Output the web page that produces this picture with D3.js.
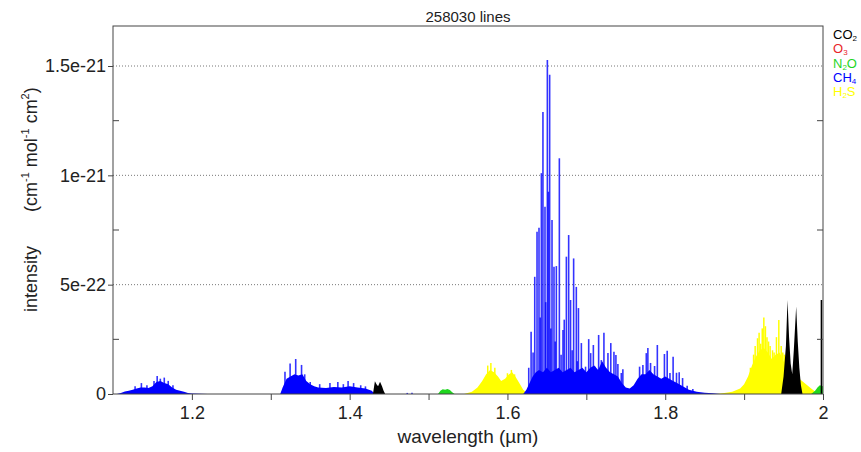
<!DOCTYPE html>
<html>
<head>
<meta charset="utf-8">
<script src="https://cdn.jsdelivr.net/npm/d3@7"></script>
<style>
  body { margin: 0; background: #fff; }
  text { font-family: "Liberation Sans", Arial, sans-serif; }
</style>
</head>
<body>
<div id="chart"></div>
<script>
// intensities are in units of 1e-22 cm^-1 mol^-1 cm^2, wavelengths in µm
const xTicks = [1.2, 1.4, 1.6, 1.8, 2.0];
const xTickLabels = ["1.2", "1.4", "1.6", "1.8", "2"];
const xMinorTicks = [1.3, 1.5, 1.7, 1.9];
const yTicks = [0, 5, 10, 15];
const yTickLabels = ["0", "5e-22", "1e-21", "1.5e-21"];
const yMinorTicks = [2.5, 7.5, 12.5];

const species = ["CO2", "O3", "N2O", "CH4", "H2S"];
const speciesColor = ["#000000", "#e8242a", "#1fd61f", "#0000ff", "#ffff00"];
const legendMain = ["CO", "O", "N", "CH", "H"];
const legendSub = ["2", "3", "2", "4", "2"];
const legendTail = ["", "", "O", "", "S"];

// dense line bands (envelopes) per species
const h2sBand = [[1.545,0],[1.555,0.1],[1.562,0.3],[1.568,0.6],[1.573,0.9],[1.578,1.1],[1.583,1.0],[1.588,0.8],
  [1.592,0.6],[1.597,0.7],[1.602,0.9],[1.606,1.0],[1.61,0.8],[1.615,0.5],[1.62,0.2],[1.626,0],
  [1.865,0],[1.875,0.05],[1.885,0.1],[1.895,0.25],[1.90,0.45],[1.905,0.8],[1.91,1.3],[1.915,1.7],[1.92,2.0],
  [1.925,2.1],[1.93,1.9],[1.935,1.6],[1.94,1.8],[1.945,1.9],[1.95,1.5],[1.955,1.1],[1.96,0.9],[1.965,0.8],
  [1.97,0.7],[1.975,0.55],[1.98,0.4],[1.985,0.25],[1.99,0.12],[1.995,0]];
const ch4Band = [[1.105,0],[1.11,0.05],[1.115,0.12],[1.12,0.15],[1.125,0.2],[1.13,0.25],[1.135,0.3],[1.14,0.3],
  [1.145,0.28],[1.15,0.35],[1.155,0.55],[1.16,0.6],[1.165,0.5],[1.17,0.45],[1.175,0.3],[1.18,0.2],[1.185,0.15],
  [1.19,0.1],[1.195,0.05],[1.20,0.02],[1.22,0],
  [1.312,0],[1.315,0.3],[1.32,0.7],[1.325,0.8],[1.33,0.9],[1.335,0.85],[1.34,0.9],[1.345,0.6],[1.35,0.45],
  [1.355,0.35],[1.36,0.3],[1.37,0.28],[1.38,0.32],[1.39,0.3],[1.40,0.35],[1.41,0.3],[1.42,0.25],[1.428,0.15],[1.432,0],
  [1.62,0],[1.624,0.2],[1.628,0.5],[1.632,0.8],[1.636,1.0],[1.64,1.1],[1.645,1.0],[1.65,1.2],[1.655,1.0],
  [1.66,1.1],[1.665,1.2],[1.67,1.0],[1.675,1.1],[1.68,1.2],[1.685,1.0],[1.69,1.1],[1.695,1.2],[1.70,1.0],
  [1.705,1.2],[1.71,1.3],[1.715,1.1],[1.72,1.5],[1.725,1.2],[1.73,1.0],[1.735,0.9],[1.74,0.8],[1.745,0.5],
  [1.75,0.3],[1.755,0.25],[1.76,0.4],[1.765,0.7],[1.77,0.9],[1.775,0.9],[1.78,1.1],[1.785,0.9],[1.79,0.8],
  [1.795,0.7],[1.80,0.8],[1.805,0.7],[1.81,0.6],[1.815,0.5],[1.82,0.4],[1.825,0.3],[1.83,0.2],[1.835,0.15],
  [1.84,0.1],[1.85,0.06],[1.86,0.04],[1.87,0]];
const n2oBand = [[1.512,0],[1.515,0.15],[1.518,0.22],[1.521,0.2],[1.524,0.23],[1.527,0.18],[1.530,0.08],[1.533,0],
  [1.985,0],[1.99,0.15],[1.993,0.3],[1.996,0.4],[2.0,0.35]];
const co2Band = [[1.4295,0],[1.431,0.35],[1.432,0.58],[1.434,0.45],[1.436,0.35],[1.4385,0.56],[1.441,0.35],
  [1.443,0.15],[1.445,0],
  [1.947,0],[1.950,0.8],[1.953,2.2],[1.955,4.3],[1.957,2.6],[1.959,1.4],[1.961,0.9],[1.963,2.0],[1.966,4.0],
  [1.968,2.4],[1.970,1.2],[1.972,0.4],[1.974,0]];

// strong single lines per species
const h2sLines = [[1.575,1.3],[1.579,1.42],[1.584,1.2],[1.600,0.95],[1.605,1.1],[1.609,0.9],
  [1.908,1.2],[1.912,1.8],[1.914,2.2],[1.917,2.55],[1.919,2.8],[1.921,2.3],[1.923,3.0],[1.925,3.5],
  [1.927,3.1],[1.929,2.6],[1.931,2.4],[1.933,2.2],[1.936,2.0],[1.938,1.9],[1.941,2.6],[1.944,3.38],
  [1.947,2.2],[1.949,1.9],[1.951,1.8],[1.953,1.5]];
const ch4Lines = [[1.128,0.35],[1.136,0.5],[1.143,0.4],[1.152,0.6],[1.156,0.82],[1.160,0.7],[1.165,0.75],
  [1.170,0.6],[1.176,0.4],
  [1.318,1.02],[1.3245,1.4],[1.3316,1.6],[1.339,1.33],[1.343,0.9],[1.35,0.55],[1.362,0.45],[1.375,0.5],
  [1.385,0.55],[1.392,0.45],[1.398,0.6],[1.405,0.5],[1.414,0.4],[1.42,0.35],[1.473,0.05],[1.479,0.06],
  [1.627,1.2],[1.630,2.85],[1.6325,1.9],[1.6346,5.36],[1.6375,7.42],[1.640,7.6],[1.6415,3.5],[1.643,10.1],
  [1.645,12.9],[1.6476,8.56],[1.6485,4.2],[1.6506,15.27],[1.6519,9.25],[1.6535,14.6],[1.655,3.0],
  [1.6565,7.96],[1.659,5.82],[1.6605,2.4],[1.662,5.85],[1.6658,10.78],[1.668,1.8],[1.6704,2.93],
  [1.672,3.4],[1.6747,6.28],[1.6776,7.27],[1.680,4.3],[1.682,2.0],[1.6839,6.2],[1.6873,4.9],[1.6885,1.5],
  [1.690,3.93],[1.6937,2.33],[1.699,1.25],[1.703,2.51],[1.7055,1.87],[1.7089,2.24],[1.711,1.25],
  [1.7156,2.7],[1.719,1.55],[1.7223,2.8],[1.7274,1.87],[1.731,2.33],[1.735,1.93],[1.7375,1.78],
  [1.740,1.37],[1.7443,0.96],[1.7463,1.13],[1.7675,1.25],[1.7717,1.33],[1.776,1.87],[1.778,2.1],
  [1.7814,1.42],[1.7865,1.28],[1.790,2.24],[1.794,0.64],[1.799,1.83],[1.8025,1.98],[1.806,0.96],
  [1.810,1.7],[1.8143,0.97],[1.8177,1.0],[1.822,0.73],[1.8278,0.38],[1.835,0.23]];
const co2Lines = [[1.998,4.3]];

const W = 861, H = 452;
const margin = { top: 26, right: 38, bottom: 58, left: 113 };

const svg = d3.select("#chart").append("svg")
  .attr("width", W).attr("height", H);

const x = d3.scaleLinear().domain([1.1, 2.0]).range([margin.left, W - margin.right]);
const y = d3.scaleLinear().domain([0, 16.83]).range([H - margin.bottom, margin.top]);

svg.append("clipPath").attr("id", "plotClip")
  .append("rect")
  .attr("x", x(1.1)).attr("y", y(16.83))
  .attr("width", x(2.0) - x(1.1) + 1).attr("height", y(0) - y(16.83));

// dotted grid lines
svg.append("g")
  .selectAll("line")
  .data(yTicks.filter(d => d > 0))
  .join("line")
  .attr("x1", x(1.1)).attr("x2", x(2.0))
  .attr("y1", d => y(d)).attr("y2", d => y(d))
  .attr("stroke", "#777")
  .attr("stroke-width", 1)
  .attr("stroke-dasharray", "1,2");

const plot = svg.append("g").attr("clip-path", "url(#plotClip)");
const area = d3.area().x(d => x(d[0])).y0(y(0)).y1(d => y(d[1]));

function drawSpecies(band, lines, color, width, opacity) {
  plot.append("path").datum(band)
    .attr("d", area)
    .attr("fill", color);
  plot.append("g")
    .selectAll("line")
    .data(lines)
    .join("line")
    .attr("x1", d => x(d[0])).attr("x2", d => x(d[0]))
    .attr("y1", y(0)).attr("y2", d => y(d[1]))
    .attr("stroke", color)
    .attr("stroke-opacity", opacity)
    .attr("stroke-width", width);
}

drawSpecies(h2sBand, h2sLines, speciesColor[4], 1.5, 1);
drawSpecies(ch4Band, ch4Lines, speciesColor[3], 1.6, 0.8);
drawSpecies(n2oBand, [], speciesColor[2], 1, 1);
drawSpecies(co2Band, co2Lines, speciesColor[0], 1.5, 1);

// frame
svg.append("rect")
  .attr("x", x(1.1)).attr("y", y(16.83))
  .attr("width", x(2.0) - x(1.1)).attr("height", y(0) - y(16.83))
  .attr("fill", "none")
  .attr("stroke", "#444")
  .attr("stroke-width", 1);

// x axis
const xAxis = svg.append("g")
  .attr("transform", `translate(0,${y(0)})`)
  .call(d3.axisBottom(x).tickValues(xTicks.concat(xMinorTicks))
    .tickFormat(d => { const i = xTicks.indexOf(d); return i >= 0 ? xTickLabels[i] : ""; })
    .tickSize(6).tickPadding(6));
xAxis.select(".domain").remove();
xAxis.selectAll("line").attr("stroke", "#444");
xAxis.selectAll("text").style("font-size", "18px").attr("fill", "#222")
  .style("font-family", "'Liberation Sans', Arial, sans-serif");

// y axis labels (outer ticks)
const yAxis = svg.append("g")
  .attr("transform", `translate(${x(1.1)},0)`)
  .call(d3.axisLeft(y).tickValues(yTicks)
    .tickFormat((d, i) => yTickLabels[i])
    .tickSize(5).tickPadding(2));
yAxis.select(".domain").remove();
yAxis.selectAll("line").attr("stroke", "#444");
yAxis.selectAll("text").style("font-size", "18px").attr("fill", "#222")
  .style("font-family", "'Liberation Sans', Arial, sans-serif");

// minor inner ticks on left and right
[x(1.1), x(2.0)].forEach((px, k) => {
  svg.append("g").selectAll("line")
    .data(yMinorTicks)
    .join("line")
    .attr("x1", px).attr("x2", k === 0 ? px + 6 : px - 6)
    .attr("y1", d => y(d)).attr("y2", d => y(d))
    .attr("stroke", "#444");
});

// title
svg.append("text")
  .attr("x", (x(1.1) + x(2.0)) / 2).attr("y", 22)
  .attr("text-anchor", "middle")
  .style("font-size", "15px").attr("fill", "#222")
  .text("258030 lines");

// x label
svg.append("text")
  .attr("x", (x(1.1) + x(2.0)) / 2).attr("y", 443)
  .attr("text-anchor", "middle")
  .style("font-size", "19px").attr("fill", "#222")
  .text("wavelength (\u00b5m)");

// y label with superscripts
const yl = svg.append("text")
  .attr("transform", "translate(37,312) rotate(-90)")
  .attr("text-anchor", "start")
  .style("font-size", "18px").attr("fill", "#222");
yl.append("tspan").text("intensity");
yl.append("tspan").attr("dx", 34).text("(cm");
yl.append("tspan").attr("dy", -8).style("font-size", "11px").text("-1");
yl.append("tspan").attr("dy", 8).text(" mol");
yl.append("tspan").attr("dy", -8).style("font-size", "11px").text("-1");
yl.append("tspan").attr("dy", 8).text(" cm");
yl.append("tspan").attr("dy", -8).style("font-size", "11px").text("2");
yl.append("tspan").attr("dy", 8).text(")");

// legend
species.forEach((s, i) => {
  const t = svg.append("text")
    .attr("x", 833).attr("y", 39 + i * 14.3)
    .style("font-size", "13px")
    .attr("fill", speciesColor[i]);
  t.append("tspan").text(legendMain[i]);
  t.append("tspan").attr("dy", 2).style("font-size", "8px").text(legendSub[i]);
  if (legendTail[i]) t.append("tspan").attr("dy", -2).text(legendTail[i]);
});
</script>
</body>
</html>
